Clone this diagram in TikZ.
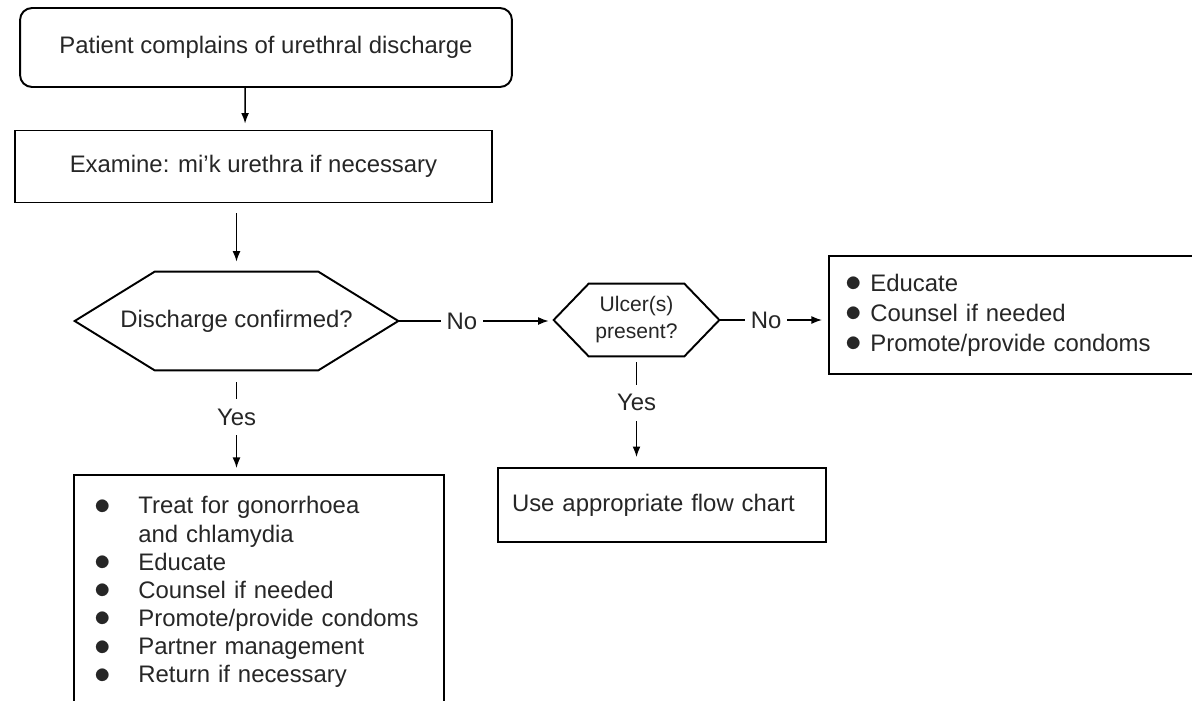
\documentclass[tikz,border=0pt]{standalone}
\usepackage{fontspec}
\setmainfont{Liberation Sans}
\usetikzlibrary{arrows.meta}

\newcommand\bul{\raisebox{-0.02em}{\scalebox{1.3}{$\bullet$}}}

\tikzset{
  box/.style={draw, line width=1.1pt, text=black!85},
  dec/.style={text=black!85},
  arr/.style={line width=0.8pt, -{Latex[length=6pt,width=4.5pt]}},
  lab/.style={fill=white, text=black!85, inner xsep=0.12cm, inner ysep=0.2cm},
}

\begin{document}
\begin{tikzpicture}[x=0.02cm, y=-0.02cm, font=\fontsize{13.6}{16}\selectfont]
    \useasboundingbox (0,0) rectangle (1192,700);
    \clip (0,0) rectangle (1192,700);

    \node[box, rounded corners=0.24cm, minimum width=9.84cm, minimum height=1.58cm] (start) at (266,47.5) {Patient complains of urethral discharge};
    \node[box, minimum width=9.54cm, minimum height=1.44cm] (exam) at (253.5,166.5) {Examine: mi'k urethra if necessary};

    % decisions, hexagons drawn round them
    \node[dec, minimum width=6.46cm, minimum height=1.96cm] (dc) at (236.5,321) {Discharge confirmed?};
    \draw[line width=1.1pt] (dc.west) -- ([xshift=1.6cm]dc.north west) -- ([xshift=-1.6cm]dc.north east) -- (dc.east)
        -- ([xshift=-1.6cm]dc.south east) -- ([xshift=1.6cm]dc.south west) -- cycle;
    \node[dec, font=\fontsize{12}{15.4}\selectfont, align=center, minimum width=3.3cm, minimum height=1.44cm] (ulc) at (636.5,320) {Ulcer(s)\\present?};
    \draw[line width=1.1pt] (ulc.west) -- ([xshift=0.7cm]ulc.north west) -- ([xshift=-0.7cm]ulc.north east) -- (ulc.east)
        -- ([xshift=-0.7cm]ulc.south east) -- ([xshift=0.7cm]ulc.south west) -- cycle;

    % outcomes
    \node[box, anchor=west, minimum height=2.36cm, text width=6.68cm, inner xsep=0.34cm, align=left,
        font=\fontsize{13.6}{17}\selectfont] (adv) at (828,315)
        {\bul\ Educate\\\bul\ Counsel if needed\\\bul\ Promote/provide condoms};
    \node[box, minimum width=6.56cm, minimum height=1.48cm, text width=6.0cm, inner xsep=0.28cm, align=left] (flow) at (662,505) {Use appropriate flow chart};
    \node[box, anchor=north west, inner sep=0pt, text width=7.4cm, text height=0.78cm, text depth=3.98cm] (care) at (73,474)
        {\begin{tabular}[t]{@{\hspace{0.42cm}}c@{\hspace{0.54cm}}l@{}}
        \bul & Treat for gonorrhoea\\
             & and chlamydia\\
        \bul & Educate\\
        \bul & Counsel if needed\\
        \bul & Promote/provide condoms\\
        \bul & Partner management\\
        \bul & Return if necessary
        \end{tabular}};

    % connectors
    \draw[arr, shorten >=0.12cm] ([xshift=-11.9pt]start.south) -- ([xshift=-4.8pt]exam.north);
    \draw[arr, shorten <=0.2cm, shorten >=0.2cm] (exam.south -| dc.north) -- (dc.north);
    \draw[arr, shorten <=0.24cm, shorten >=0.12cm] (dc.south) -- node[lab, pos=0.45] {Yes} (dc.south |- care.north);
    \draw[arr, shorten >=0.1cm] (dc.east) -- node[lab, pos=0.41] {No} (dc.east -| ulc.west);
    \draw[arr, shorten <=0.12cm, shorten >=0.2cm] (ulc.south) -- node[lab, pos=0.42] {Yes} (ulc.south |- flow.north);
    \draw[arr, shorten >=0.12cm] (ulc.east) -- node[lab, pos=0.43] {No} (ulc.east -| adv.west);
\end{tikzpicture}
\end{document}
